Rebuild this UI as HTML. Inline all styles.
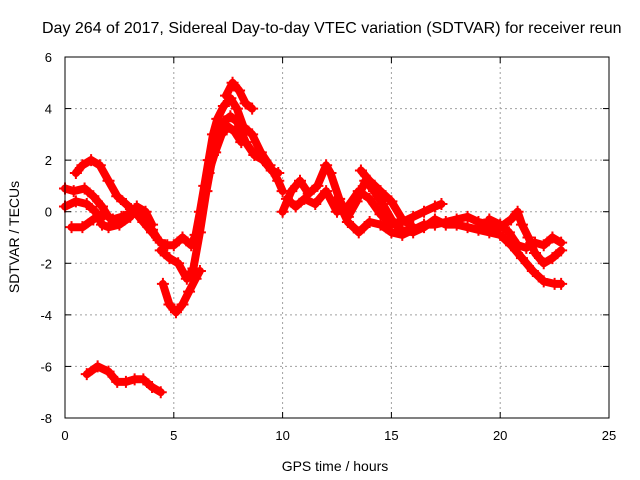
<!DOCTYPE html>
<html><head><meta charset="utf-8"><style>
html,body{margin:0;padding:0;background:#fff}
svg{display:block;font-family:"Liberation Sans",sans-serif}
</style></head><body>
<svg id="chart" width="640" height="480" viewBox="0 0 640 480" xmlns="http://www.w3.org/2000/svg">
<g id="grid"></g>
<g id="series"></g>
<rect x="65" y="57" width="544" height="361" fill="none" stroke="#000" stroke-width="1"/>
<g id="ticks"></g>
<text x="42" y="33" font-size="16">Day 264 of 2017, Sidereal Day-to-day VTEC variation (SDTVAR) for receiver reun</text>
<text x="335" y="471" font-size="14" text-anchor="middle">GPS time / hours</text>
<text transform="translate(19,237) rotate(-90)" font-size="14" text-anchor="middle">SDTVAR / TECUs</text>
</svg>
<script>
const xTicks=[0,5,10,15,20,25];
const yTicks=[-8,-6,-4,-2,0,2,4,6];
const trackA_t=[0.5,0.8,1.2,1.6,2.0,2.4,2.8,3.2,3.6,4.0,4.4,4.7];
const trackA_v=[1.5,1.8,2.0,1.8,1.2,0.6,0.3,0.0,-0.4,-0.8,-1.2,-1.3];
const trackB_t=[0,0.4,0.9,1.3,1.7,2.0,2.3,2.7,3.2,3.6,4.0,4.3];
const trackB_v=[0.9,0.8,0.9,0.6,0.2,-0.2,-0.4,-0.2,0.1,-0.3,-0.7,-1.1];
const trackC_t=[0,0.5,1.0,1.4,1.7,2.0,2.5,3.0,3.3,3.7,4.0];
const trackC_v=[0.2,0.4,0.3,0.0,-0.5,-0.6,-0.5,-0.2,0.2,0.0,-0.5];
const trackD_t=[0.3,0.8,1.3,1.8,2.2,2.6,3.0];
const trackD_v=[-0.6,-0.6,-0.3,-0.1,-0.3,-0.2,-0.1];
const trackE_t=[4.6,5.0,5.4,5.8,6.0,6.2,6.4,6.6,6.8,7.0,7.3,7.6,7.9,8.2,8.6,9.0,9.4,9.8,10.0];
const trackE_v=[-1.3,-1.3,-1.0,-1.3,-0.9,0,1.0,2.0,3.0,3.6,4.1,4.4,4.0,3.3,3.0,2.3,1.8,1.2,0.8];
const trackF_t=[4.4,4.8,5.2,5.6,5.9,6.2,6.5,6.8,7.0,7.3,7.6,7.9,8.3,8.7,9.1,9.5,9.8];
const trackF_v=[-1.5,-1.8,-2.0,-2.6,-2.2,-0.8,0.8,2.2,3.0,3.5,3.7,3.5,2.7,2.2,2.0,1.6,1.5];
const trackG_t=[6.6,6.9,7.2,7.5,7.8,8.1];
const trackG_v=[1.5,2.3,3.0,3.3,3.1,2.7];
const trackH_t=[7.4,7.7,8.0,8.3,8.6];
const trackH_v=[4.5,5.0,4.7,4.2,4.0];
const trackI_t=[4.5,4.8,5.1,5.4,5.7,6.0,6.2];
const trackI_v=[-2.8,-3.6,-3.9,-3.6,-3.1,-2.6,-2.3];
const trackJ_t=[1.0,1.5,2.0,2.4,2.8,3.2,3.6,4.0,4.4];
const trackJ_v=[-6.3,-6.0,-6.2,-6.6,-6.6,-6.5,-6.5,-6.8,-7.0];
const trackK_t=[10.0,10.4,10.8,11.2,11.6,12.0,12.2,12.6,13.0,13.4,13.8,14.2,14.6,15.0,15.4,16.0,16.5,17.0,17.5,18.0,18.5,19.0,19.5,20.0,20.5,21.0,21.5,22.0,22.5,22.8];
const trackK_v=[0.0,0.8,1.2,0.7,1.0,1.8,1.5,0.5,-0.2,0.4,1.2,0.8,0.3,-0.3,-0.7,-0.8,-0.6,-0.3,-0.5,-0.5,-0.6,-0.7,-0.8,-0.9,-1.3,-1.8,-2.3,-2.7,-2.8,-2.8];
const trackL_t=[10.2,10.6,11.0,11.5,12.0,12.5,13.0,13.5,14.0,14.5,15.0,15.5,16.0,16.5,17.0,17.3];
const trackL_v=[0.5,0.2,0.5,0.3,0.8,0.0,0.2,0.8,0.5,-0.1,-0.5,-0.4,-0.2,0.0,0.2,0.3];
const trackM_t=[12.5,13.0,13.5,14.0,14.5,15.0,15.5,16.0,16.5,17.0,17.5,18.0,18.5,19.0,19.5,20.0,20.5,20.8,21.0,21.3,21.6,22.0,22.4,22.8];
const trackM_v=[0.5,-0.4,-0.8,-0.4,-0.5,-0.8,-0.9,-0.7,-0.5,-0.5,-0.4,-0.3,-0.2,-0.4,-0.5,-0.6,-0.3,0.0,-0.5,-1.0,-1.6,-2.0,-1.8,-1.5];
const trackN_t=[19.5,20.0,20.4,20.8,21.2,21.6,22.0,22.4,22.8];
const trackN_v=[-0.3,-0.5,-0.8,-1.3,-1.4,-1.2,-1.3,-1.0,-1.2];
const trackO_t=[13.6,14.0,14.5,15.0,15.5,16.0];
const trackO_v=[1.6,1.2,0.8,0.4,-0.3,-0.6];
const tracks=[[trackA_t,trackA_v],[trackB_t,trackB_v],[trackC_t,trackC_v],[trackD_t,trackD_v],[trackE_t,trackE_v],[trackF_t,trackF_v],[trackG_t,trackG_v],[trackH_t,trackH_v],[trackI_t,trackI_v],[trackJ_t,trackJ_v],[trackK_t,trackK_v],[trackL_t,trackL_v],[trackM_t,trackM_v],[trackN_t,trackN_v],[trackO_t,trackO_v]];

const L=65,R=609,T=57,B=418;
function sx(t){return L+(t-0)/(25-0)*(R-L);}
function sy(v){return B-(v+8)/(14)*(B-T);}
const NS="http://www.w3.org/2000/svg";
const grid=document.getElementById('grid'),ticks=document.getElementById('ticks'),ser=document.getElementById('series');
function mk(tag,attrs,parent){const e=document.createElementNS(NS,tag);for(const k in attrs)e.setAttribute(k,attrs[k]);parent.appendChild(e);return e;}
xTicks.forEach(t=>{
  const x=sx(t);
  if(t>0&&t<25){const g=mk('line',{x1:x,x2:x,y1:T,y2:B,stroke:'#a0a0a0','stroke-dasharray':'2,3'},grid);
  
  }
  const a=mk('line',{x1:x,x2:x,y1:B,y2:B-6,stroke:'#000'},ticks);
  
  
  const b=mk('line',{x1:x,x2:x,y1:T,y2:T+6,stroke:'#000'},ticks);
  
  
  const tx=mk('text',{x:x,y:B+22,'font-size':13,'text-anchor':'middle'},ticks);
  tx.textContent=t;
  
  
});
yTicks.forEach(v=>{
  const y=sy(v);
  if(v>-8&&v<6){const g=mk('line',{x1:L,x2:R,y1:y,y2:y,stroke:'#a0a0a0','stroke-dasharray':'2,3'},grid);
  
  }
  const a=mk('line',{x1:L,x2:L+6,y1:y,y2:y,stroke:'#000'},ticks);
  
  
  const b=mk('line',{x1:R,x2:R-6,y1:y,y2:y,stroke:'#000'},ticks);
  
  
  const tx=mk('text',{x:L-13,y:y+5,'font-size':13,'text-anchor':'end'},ticks);
  tx.textContent=v;
  
  
});
tracks.forEach(([ts,vs])=>{
  const pts=ts.map((t,i)=>sx(t).toFixed(1)+','+sy(vs[i]).toFixed(1)).join(' ');
  const pl=mk('polyline',{points:pts,fill:'none',stroke:'#ff0000','stroke-width':8,'stroke-linejoin':'round','stroke-linecap':'round'},ser);
  
  
  ts.forEach((t,i)=>{
    const x=sx(t),y=sy(vs[i]);
    const p=mk('path',{d:`M${x-6},${y}H${x+6}M${x},${y-6}V${y+6}`,stroke:'#ff0000','stroke-width':2},ser);
    
    
  });
});
</script>
</body></html>
